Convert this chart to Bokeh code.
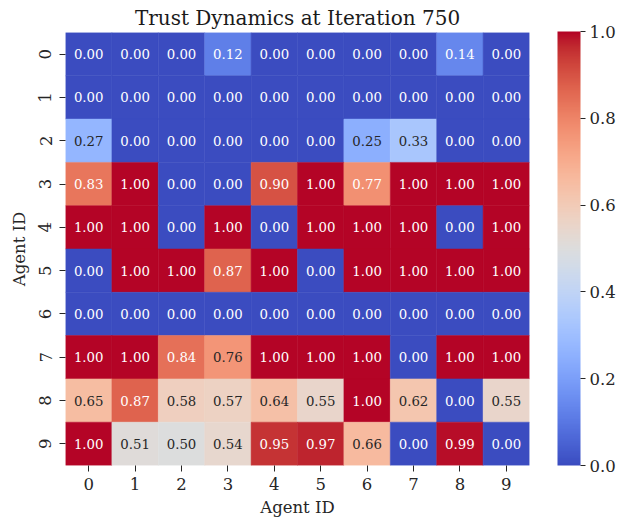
import numpy as np
from bokeh.plotting import figure
from bokeh.models import (ColumnDataSource, LinearColorMapper, ColorBar, FixedTicker,
                          Range1d, PrintfTickFormatter)
from bokeh.core.properties import value
from bokeh.embed import file_html
from bokeh.resources import INLINE

# ---------------- data ----------------
agent_ids = [0, 1, 2, 3, 4, 5, 6, 7, 8, 9]
tick_labels = ["0", "1", "2", "3", "4", "5", "6", "7", "8", "9"]
row_0 = [0.00, 0.00, 0.00, 0.12, 0.00, 0.00, 0.00, 0.00, 0.14, 0.00]
row_1 = [0.00, 0.00, 0.00, 0.00, 0.00, 0.00, 0.00, 0.00, 0.00, 0.00]
row_2 = [0.27, 0.00, 0.00, 0.00, 0.00, 0.00, 0.25, 0.33, 0.00, 0.00]
row_3 = [0.83, 1.00, 0.00, 0.00, 0.90, 1.00, 0.77, 1.00, 1.00, 1.00]
row_4 = [1.00, 1.00, 0.00, 1.00, 0.00, 1.00, 1.00, 1.00, 0.00, 1.00]
row_5 = [0.00, 1.00, 1.00, 0.87, 1.00, 0.00, 1.00, 1.00, 1.00, 1.00]
row_6 = [0.00, 0.00, 0.00, 0.00, 0.00, 0.00, 0.00, 0.00, 0.00, 0.00]
row_7 = [1.00, 1.00, 0.84, 0.76, 1.00, 1.00, 1.00, 0.00, 1.00, 1.00]
row_8 = [0.65, 0.87, 0.58, 0.57, 0.64, 0.55, 1.00, 0.62, 0.00, 0.55]
row_9 = [1.00, 0.51, 0.50, 0.54, 0.95, 0.97, 0.66, 0.00, 0.99, 0.00]
trust_rows = [row_0, row_1, row_2, row_3, row_4, row_5, row_6, row_7, row_8, row_9]
cbar_ticks = [0.0, 0.2, 0.4, 0.6, 0.8, 1.0]

# ---------------- coolwarm palette ----------------
_cw = np.array([
    [0.2298057, 0.298717966, 0.753683153], [0.26623388, 0.353094838, 0.801466763],
    [0.30386891, 0.406535296, 0.84495867], [0.342804478, 0.458757618, 0.883725899],
    [0.38301334, 0.50941904, 0.917387822], [0.424369608, 0.558148092, 0.945619588],
    [0.46666708, 0.604562568, 0.968154911], [0.509635204, 0.648280772, 0.98478814],
    [0.552953156, 0.688929332, 0.995375608], [0.596262162, 0.726149107, 0.999836203],
    [0.639176211, 0.759599947, 0.998151185], [0.681291281, 0.788964712, 0.990363227],
    [0.722193294, 0.813952739, 0.976574709], [0.761464949, 0.834302879, 0.956945269],
    [0.798691636, 0.849786142, 0.931688648], [0.833466556, 0.860207984, 0.901068838],
    [0.865395197, 0.86541021, 0.865395561], [0.897787179, 0.848937047, 0.820880546],
    [0.924127593, 0.827384882, 0.774508472], [0.944468518, 0.800927443, 0.726736146],
    [0.958852946, 0.769767752, 0.678007945], [0.96732803, 0.734132809, 0.628751763],
    [0.969954137, 0.694266682, 0.579375448], [0.966811177, 0.650421156, 0.530263762],
    [0.958003065, 0.602842431, 0.481775914], [0.943660866, 0.551750968, 0.434243684],
    [0.923944917, 0.49730856, 0.387970225], [0.89904617, 0.439559467, 0.343229596],
    [0.869186849, 0.378313092, 0.300267182], [0.834620542, 0.312874446, 0.259301199],
    [0.795631745, 0.24128379, 0.220525627], [0.752534934, 0.157246067, 0.184115123],
    [0.705673158, 0.01555616, 0.150232812]])
_pos = np.linspace(0, 1, len(_cw))
_s = np.linspace(0, 1, 256)
_rgb = np.stack([np.interp(_s, _pos, _cw[:, k]) for k in range(3)], axis=1)
palette = ["#%02x%02x%02x" % tuple(int(round(c * 255)) for c in r) for r in _rgb]


def cmap(v):
    i = int(min(255, max(0, np.floor(v * 255.999))))
    return palette[i], _rgb[i]


def lum(rgb):
    lin = np.where(rgb <= 0.03928, rgb / 12.92, ((rgb + 0.055) / 1.055) ** 2.4)
    return 0.2126 * lin[0] + 0.7152 * lin[1] + 0.0722 * lin[2]


xs, ys, vals, fills, labels, tcolors = [], [], [], [], [], []
for r, row in zip(agent_ids, trust_rows):
    for c, v in zip(agent_ids, row):
        col, rgb = cmap(v)
        xs.append(c + 0.5)
        ys.append(r + 0.5)
        vals.append(v)
        fills.append(col)
        labels.append("%.2f" % v)
        tcolors.append("#262626" if lum(rgb) > 0.408 else "#ffffff")

src = ColumnDataSource(dict(x=xs, y=ys, v=vals, fill=fills, label=labels, tc=tcolors))

FONT = "DejaVu Serif"

p = figure(width=630, height=518, output_backend="svg", toolbar_location=None,
           x_range=Range1d(0, 10), y_range=Range1d(10, 0),
           title="Trust Dynamics at Iteration 750",
           min_border_left=65, min_border_top=0, min_border_bottom=0, min_border_right=0,
           frame_width=464, frame_height=433)

p.rect(x="x", y="y", width=1, height=1, source=src, fill_color="fill",
       line_color="fill", line_width=0.5)
p.text(x="x", y="y", text="label", source=src, text_color="tc",
       text_align="center", text_baseline="middle",
       text_font=value(FONT), text_font_size="13.3px")

p.title.text_font = FONT
p.title.text_font_size = "20px"
p.title.text_font_style = "normal"
p.title.text_color = "#1a1a1a"
p.title.align = "center"
p.title.offset = 0
p.title.standoff = 6

p.grid.visible = False
p.outline_line_color = None

centers = [i + 0.5 for i in agent_ids]
overrides = {c: t for c, t in zip(centers, tick_labels)}
for ax in (p.xaxis[0], p.yaxis[0]):
    ax.ticker = FixedTicker(ticks=centers)
    ax.major_label_overrides = overrides
    ax.axis_line_color = None
    ax.minor_tick_line_color = None
    ax.major_tick_in = 0
    ax.major_tick_out = 6
    ax.major_tick_line_color = "#262626"
    ax.major_label_text_font = FONT
    ax.major_label_text_font_size = "16.5px"
    ax.major_label_text_color = "#262626"
    ax.axis_label = "Agent ID"
    ax.axis_label_text_font = FONT
    ax.axis_label_text_font_size = "16.5px"
    ax.axis_label_text_font_style = "normal"
    ax.axis_label_text_color = "#262626"

p.xaxis[0].major_label_standoff = 6
p.yaxis[0].major_label_standoff = 8
p.yaxis[0].major_label_orientation = "vertical"
p.xaxis[0].axis_label_standoff = 5
p.yaxis[0].axis_label_standoff = 8

mapper = LinearColorMapper(palette=palette, low=0, high=1)
cb = ColorBar(color_mapper=mapper, ticker=FixedTicker(ticks=cbar_ticks),
              formatter=PrintfTickFormatter(format="%.1f"),
              width=23, height=434, padding=0, margin=0,
              major_tick_in=0, major_tick_out=5, major_tick_line_color="#262626",
              minor_tick_line_color=None, bar_line_color=None,
              border_line_color=None, background_fill_alpha=0,
              major_label_text_font=FONT, major_label_text_font_size="16.5px",
              major_label_text_color="#262626", label_standoff=4,
              location=(28, 0))
p.add_layout(cb, "right")

open("out.html", "w").write(file_html(p, INLINE))
